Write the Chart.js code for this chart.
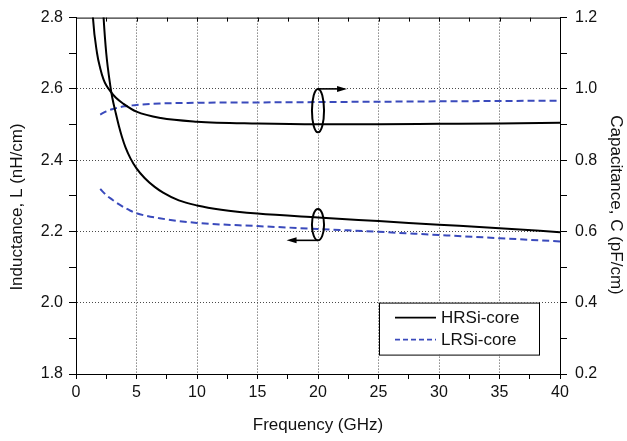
<!DOCTYPE html>
<html>
<head>
<meta charset="utf-8">
<script src="https://cdn.jsdelivr.net/npm/chart.js@4.4.1/dist/chart.umd.min.js"></script>
<style>
  html, body { margin: 0; padding: 0; background: #ffffff; }
  canvas { display: block; }
</style>
</head>
<body>
<canvas id="chart" width="627" height="441"></canvas>
<script>
// Frequency points (GHz) and measured per-unit-length line parameters
const hrsiFreqL = [2.0, 2.28, 2.5, 2.83, 3.0, 3.3, 3.55, 3.8, 4.1, 4.5, 5.0, 5.67, 6.5, 7.2, 8.5, 10, 12, 15, 20, 25, 30, 35, 40];
const hrsiL     = [2.98, 2.80, 2.70, 2.61, 2.575, 2.53, 2.495, 2.465, 2.435, 2.405, 2.377, 2.35, 2.325, 2.309, 2.287, 2.273, 2.261, 2.250, 2.239, 2.229, 2.219, 2.209, 2.198];

const hrsiFreqC = [1.2, 1.4, 1.74, 2.0, 2.28, 2.5, 2.83, 3.3, 3.93, 5.0, 7.0, 10, 15, 20, 25, 30, 35, 40];
const hrsiC     = [1.34, 1.20, 1.10, 1.058, 1.026, 1.010, 0.994, 0.975, 0.958, 0.936, 0.918, 0.908, 0.903, 0.901, 0.901, 0.902, 0.903, 0.905];

const lrsiFreq  = [2, 2.5, 3, 3.33, 4, 4.5, 5, 6.9, 10, 15, 20, 25, 30, 35, 40];
const lrsiL     = [2.319, 2.302, 2.289, 2.281, 2.267, 2.258, 2.251, 2.237, 2.224, 2.215, 2.207, 2.199, 2.190, 2.181, 2.172];
const lrsiC     = [0.928, 0.937, 0.943, 0.946, 0.951, 0.953, 0.955, 0.959, 0.961, 0.962, 0.963, 0.964, 0.965, 0.966, 0.967];

const seriesNames = ['HRSi-core', 'LRSi-core'];

// Axis ranges and tick steps
const xRange = [0, 40], xStep = 2.5, xLabelEvery = 5;
const lRange = [1.8, 2.8], cRange = [0.2, 1.2], yStep = 0.1;

const FONT = "'Liberation Sans', Arial, Helvetica, sans-serif";
const TXT = '#111111';
const BLUE = '#3a4abc';
const GRID = '#4a4a4a';

const pts = (xs, ys) => xs.map((x, i) => ({ x, y: ys[i] }));

const isMajorY = v => Math.round(v * 10) % 2 === 0;
const isMajorX = v => Math.abs(v / xLabelEvery - Math.round(v / xLabelEvery)) < 1e-6;

// Frame: top edge with inward ticks along it
const framePlugin = {
  id: 'frame',
  afterDraw(chart) {
    const { ctx, chartArea: a, scales } = chart;
    const x = scales.x;
    ctx.save();
    ctx.strokeStyle = '#000';
    ctx.lineWidth = 1;
    ctx.beginPath();
    ctx.moveTo(a.left, a.top + 0.5);
    ctx.lineTo(a.right, a.top + 0.5);
    x.ticks.forEach(t => {
      const px = Math.round(x.getPixelForValue(t.value)) + 0.5;
      ctx.moveTo(px, a.top);
      ctx.lineTo(px, a.top + 4);
    });
    ctx.stroke();
    ctx.restore();
  }
};

// Ellipse markers with arrows pointing to the relevant axis
const calloutPlugin = {
  id: 'callouts',
  afterDatasetsDraw(chart) {
    const { ctx, scales } = chart;
    const x = scales.x, yL = scales.yL, yC = scales.yC;
    const callouts = [
      { scale: yC, cx: 20, cy: 0.939, hx: 0.5, hy: 0.061, from: 20, to: 22.4, anchor: 'top' },
      { scale: yL, cx: 20, cy: 2.219, hx: 0.5, hy: 0.044, from: 20, to: 17.4, anchor: 'bottom' }
    ];
    ctx.save();
    ctx.strokeStyle = '#000';
    ctx.fillStyle = '#000';
    callouts.forEach(c => {
      const px = x.getPixelForValue(c.cx);
      const py = c.scale.getPixelForValue(c.cy);
      const rx = Math.abs(x.getPixelForValue(c.cx + c.hx) - px);
      const ry = Math.abs(c.scale.getPixelForValue(c.cy + c.hy) - py);
      ctx.lineWidth = 2;
      ctx.beginPath();
      ctx.ellipse(px, py, rx, ry, 0, 0, Math.PI * 2);
      ctx.stroke();

      const ay = c.anchor === 'top' ? py - ry : py + ry;
      const x0 = x.getPixelForValue(c.from);
      const x1 = x.getPixelForValue(c.to);
      const dir = Math.sign(x1 - x0);
      ctx.lineWidth = 1.6;
      ctx.beginPath();
      ctx.moveTo(x0, ay);
      ctx.lineTo(x1 - dir * 6, ay);
      ctx.stroke();
      ctx.beginPath();
      ctx.moveTo(x1, ay);
      ctx.lineTo(x1 - dir * 10, ay - 3);
      ctx.lineTo(x1 - dir * 10, ay + 3);
      ctx.closePath();
      ctx.fill();
    });
    ctx.restore();
  }
};

// Boxed legend in the lower right of the plot area
const legendPlugin = {
  id: 'boxLegend',
  afterDraw(chart) {
    const { ctx, chartArea: a } = chart;
    const left = a.left + 303, top = a.top + 285, w = 160, h = 52;
    ctx.save();
    ctx.fillStyle = '#fff';
    ctx.fillRect(left, top, w, h);
    ctx.strokeStyle = '#000';
    ctx.lineWidth = 1;
    ctx.strokeRect(left + 0.5, top + 0.5, w, h);
    const entries = [chart.data.datasets[0], chart.data.datasets[2]];
    entries.forEach((ds, i) => {
      const y = top + 15 + i * 22;
      ctx.strokeStyle = ds.borderColor;
      ctx.lineWidth = 1.6;
      ctx.setLineDash(ds.borderDash && ds.borderDash.length ? [5, 3] : []);
      ctx.beginPath();
      ctx.moveTo(left + 16, y);
      ctx.lineTo(left + 57, y);
      ctx.stroke();
      ctx.setLineDash([]);
      ctx.fillStyle = TXT;
      ctx.font = '17px ' + FONT;
      ctx.textBaseline = 'middle';
      ctx.textAlign = 'left';
      ctx.fillText(seriesNames[i], left + 62, y + 1);
    });
    ctx.restore();
  }
};

// Axis titles
const titlePlugin = {
  id: 'axisTitles',
  afterDraw(chart) {
    const { ctx, chartArea: a } = chart;
    ctx.save();
    ctx.fillStyle = TXT;
    ctx.font = '17px ' + FONT;
    ctx.textAlign = 'center';
    ctx.textBaseline = 'middle';
    ctx.fillText('Frequency (GHz)', (a.left + a.right) / 2, 425);

    ctx.translate(17, 207);
    ctx.rotate(-Math.PI / 2);
    ctx.fillText('Inductance, L (nH/cm)', 0, 0);
    ctx.restore();

    ctx.save();
    ctx.fillStyle = TXT;
    ctx.font = '17px ' + FONT;
    ctx.textAlign = 'center';
    ctx.textBaseline = 'middle';
    ctx.translate(616, 205);
    ctx.rotate(Math.PI / 2);
    ctx.fillText('Capacitance, C (pF/cm)', 0, 0);
    ctx.restore();
  }
};

const lineStyle = { pointRadius: 0, borderWidth: 2, cubicInterpolationMode: 'monotone', fill: false };

new Chart(document.getElementById('chart'), {
  type: 'line',
  data: {
    datasets: [
      { label: seriesNames[0] + ' L', data: pts(hrsiFreqL, hrsiL), yAxisID: 'yL', borderColor: '#000', ...lineStyle },
      { label: seriesNames[0] + ' C', data: pts(hrsiFreqC, hrsiC), yAxisID: 'yC', borderColor: '#000', ...lineStyle },
      { label: seriesNames[1] + ' L', data: pts(lrsiFreq, lrsiL), yAxisID: 'yL', borderColor: BLUE, borderDash: [7, 4], ...lineStyle },
      { label: seriesNames[1] + ' C', data: pts(lrsiFreq, lrsiC), yAxisID: 'yC', borderColor: BLUE, borderDash: [7, 4], ...lineStyle }
    ]
  },
  options: {
    responsive: false,
    animation: false,
    devicePixelRatio: 1,
    layout: { padding: { top: 14, left: 0, right: 0, bottom: 0 } },
    plugins: { legend: { display: false }, tooltip: { enabled: false } },
    scales: {
      x: {
        type: 'linear',
        position: 'bottom',
        min: xRange[0], max: xRange[1],
        afterFit: s => { s.height = 67; },
        ticks: {
          stepSize: xStep, autoSkip: false, maxRotation: 0, padding: 4,
          color: TXT, font: { family: FONT, size: 16 },
          callback: v => (isMajorX(v) ? String(v) : '')
        },
        grid: {
          color: c => (isMajorX(c.tick.value) && c.tick.value > xRange[0] && c.tick.value < xRange[1]) ? GRID : 'rgba(0,0,0,0)',
          tickColor: '#000', tickLength: 5, lineWidth: 1
        },
        border: { color: '#000', width: 1, dash: [1, 2] }
      },
      yL: {
        type: 'linear',
        position: 'left',
        min: lRange[0], max: lRange[1],
        afterFit: s => { s.width = 76; },
        ticks: {
          stepSize: yStep, autoSkip: false, padding: 6,
          color: TXT, font: { family: FONT, size: 16 },
          callback: v => (isMajorY(v) ? v.toFixed(1) : '')
        },
        grid: {
          color: c => (isMajorY(c.tick.value) && c.tick.value > lRange[0] + 1e-6 && c.tick.value < lRange[1] - 1e-6) ? GRID : 'rgba(0,0,0,0)',
          tickColor: '#000', tickLength: 7, lineWidth: 1
        },
        border: { color: '#000', width: 1, dash: [1, 2] }
      },
      yC: {
        type: 'linear',
        position: 'right',
        min: cRange[0], max: cRange[1],
        afterFit: s => { s.width = 67; },
        ticks: {
          stepSize: yStep, autoSkip: false, padding: 8,
          color: TXT, font: { family: FONT, size: 16 },
          callback: v => (isMajorY(v) ? v.toFixed(1) : '')
        },
        grid: { drawOnChartArea: false, tickColor: '#000', tickLength: 7, lineWidth: 1 },
        border: { color: '#000', width: 1 }
      }
    }
  },
  plugins: [framePlugin, calloutPlugin, legendPlugin, titlePlugin]
});
</script>
</body>
</html>
